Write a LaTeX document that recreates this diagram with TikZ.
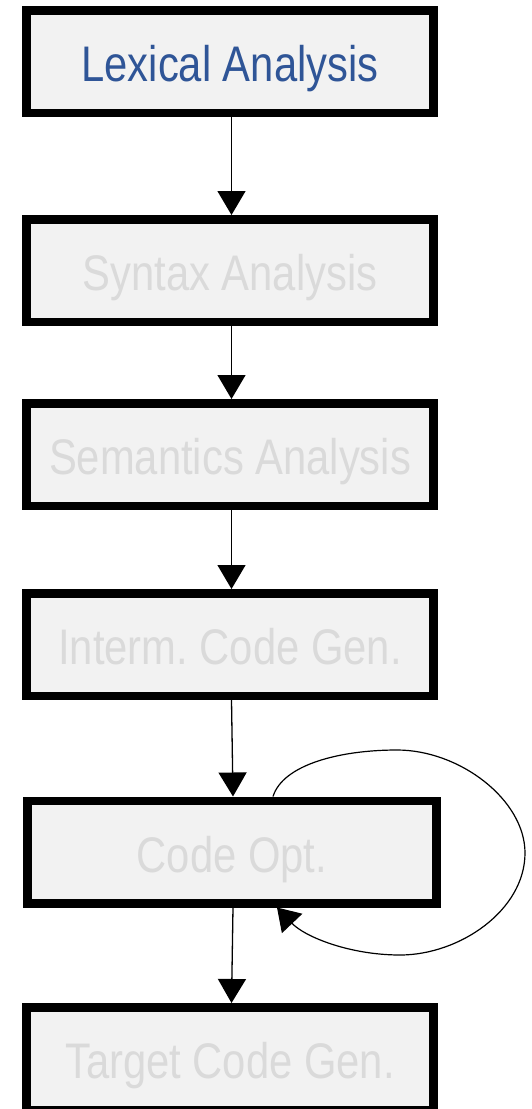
\documentclass[tikz,border=0pt]{standalone}
\usepackage{fontspec}
\usetikzlibrary{arrows.meta}
\newfontfamily\boxfont[FakeStretch=0.835]{Liberation Sans}
\definecolor{phasefill}{HTML}{F2F2F2}
\definecolor{activetext}{HTML}{2F5597}
\definecolor{idletext}{HTML}{DADADA}
\frenchspacing
\tikzset{
  phase/.style={draw=black, line width=8.5pt, fill=phasefill,
    minimum width=407pt, minimum height=102.5pt, inner sep=0pt,
    text height=40pt, text depth=0pt, text=idletext,
    font=\boxfont\fontsize{50}{60}\selectfont},
  active/.style={text=activetext},
  flow/.style={line width=1.3pt, -{Triangle[width=28pt,length=24pt]}},
}
\begin{document}
\begin{tikzpicture}[x=1pt,y=-1pt]
  \useasboundingbox (0,0) rectangle (531,1109);
  \clip (0,0) rectangle (531,1109);

  \node[phase, active] (lex) at (230,61.5)  {Lexical Analysis};
  \node[phase] (syn) at (230,270.5) {Syntax Analysis};
  \node[phase] (sem) at (230,454.5) {Semantics Analysis};
  \node[phase] (icg) at (230,644.5) {Interm. Code Gen.};
  \node[phase, minimum width=409pt] (opt) at (232,852) {Code Opt.};
  \node[phase] (tcg) at (230,1058.5) {Target Code Gen.};

  \draw[flow] ([xshift=1.5pt]lex.south) -- ([xshift=1.5pt]syn.north);
  \draw[flow] ([xshift=1.5pt]syn.south) -- ([xshift=1.5pt]sem.north);
  \draw[flow] ([xshift=1.5pt]sem.south) -- ([xshift=1.5pt]icg.north);
  \draw[flow] ([xshift=1.5pt]icg.south) -- ([xshift=1pt]opt.north);
  \draw[flow] ([xshift=1pt]opt.south) -- ([xshift=1.5pt]tcg.north);

  % optimisation loop back into the same phase
  \draw[line width=1.2pt, -{Triangle[width=28pt,length=22pt]}]
    ([xshift=41pt]opt.north)
      .. controls +(10,-32) and (340,750) .. (397,750)
      .. controls (460,750) and (525,800) .. (525,853)
      .. controls (525,910) and (460,955) .. (400,955)
      .. controls (350,955) and (305,937) .. ([xshift=45pt]opt.south);
\end{tikzpicture}
\end{document}
